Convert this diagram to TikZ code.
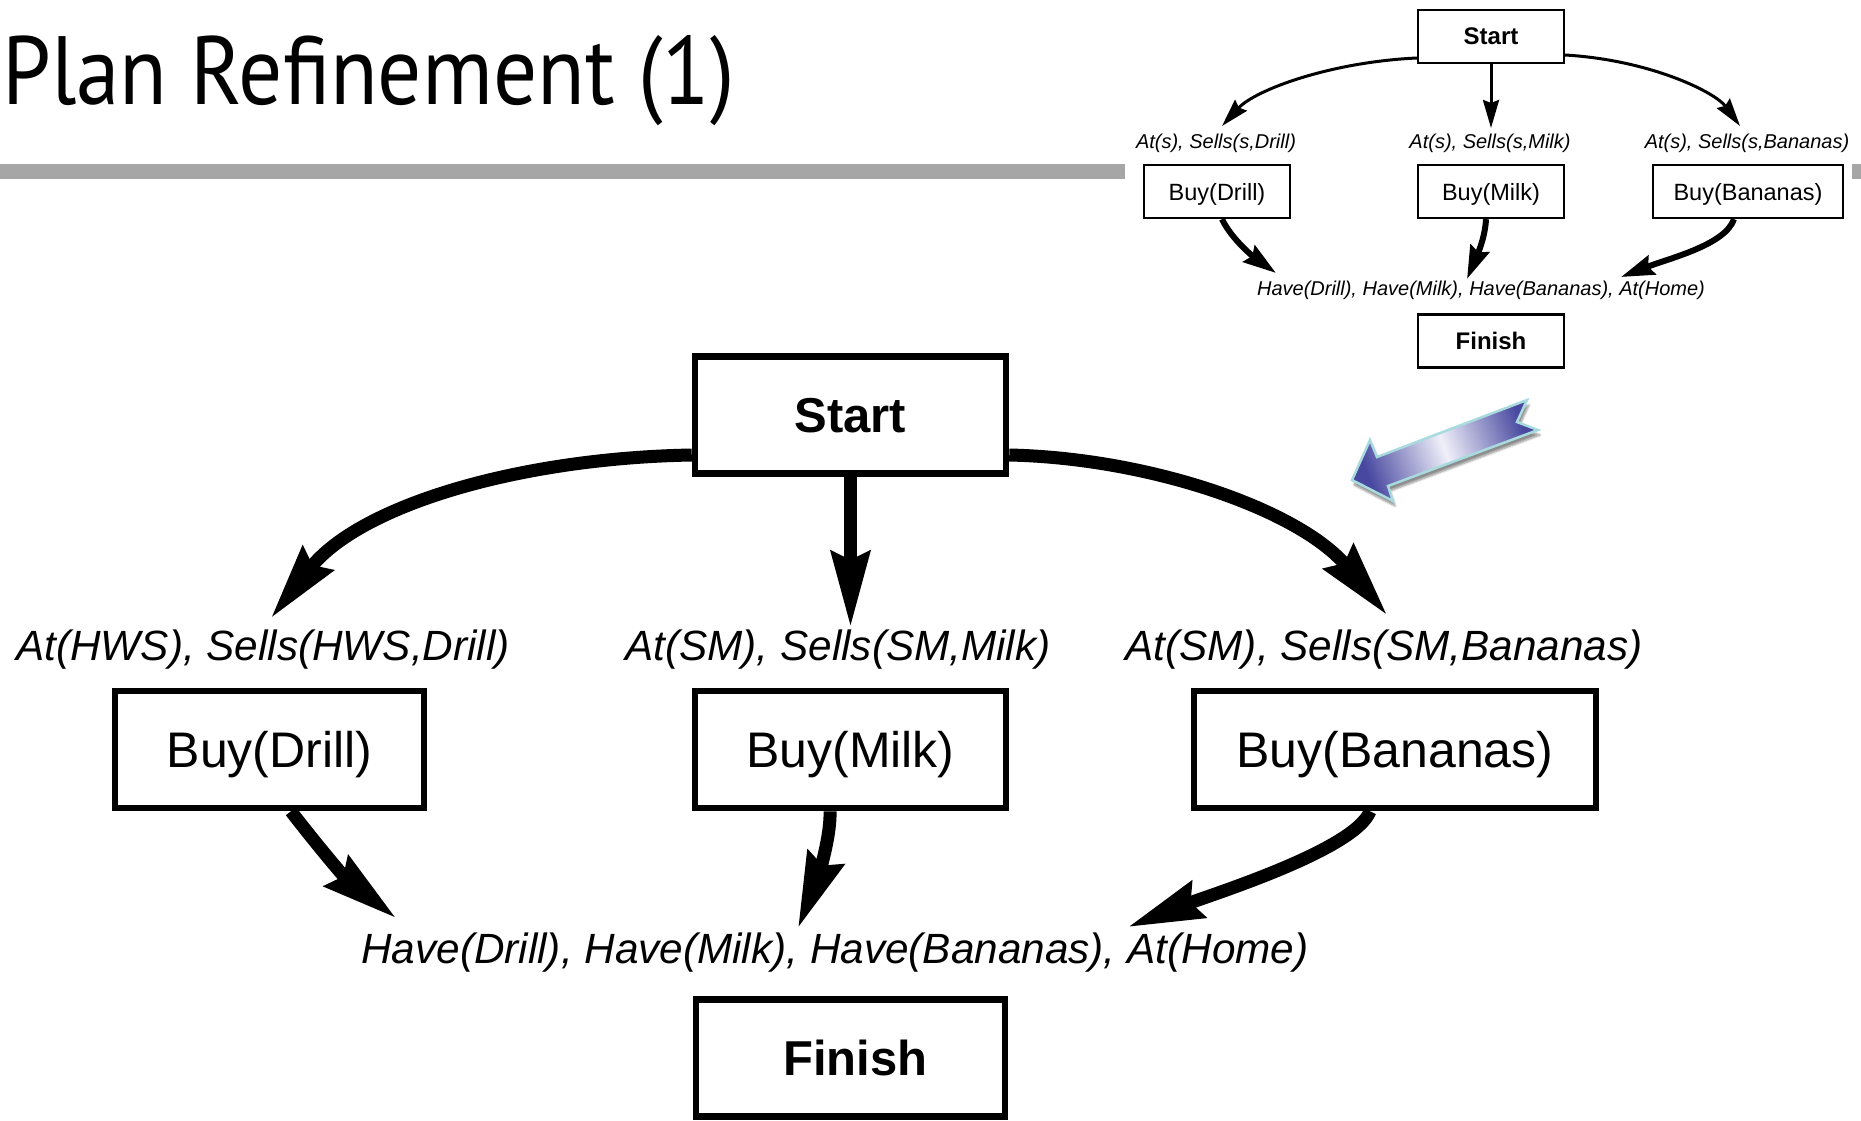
\documentclass[tikz,border=0pt]{standalone}
\usepackage{fontspec}
\setmainfont{Liberation Sans}
\newfontfamily\titlefont[FakeStretch=0.9]{PT Sans}
\usetikzlibrary{arrows.meta,shadows.blur}

\definecolor{rulegray}{HTML}{A6A6A6}
\definecolor{arrowdark}{RGB}{72,72,160}
\definecolor{arrowlight}{RGB}{240,240,250}
\definecolor{arrowedge}{RGB}{168,218,222}

\begin{document}
\begin{tikzpicture}[x=1pt,y=-1pt,
  bigbox/.style={draw, line width=6.5pt, minimum height=117pt, inner sep=0pt,
    text depth=0pt, font=\fontsize{50}{50}\selectfont},
  bigbold/.style={bigbox, font=\fontsize{49}{49}\selectfont\bfseries},
  biglbl/.style={inner sep=0pt, anchor=base, font=\fontsize{42.3}{42.3}\selectfont\itshape},
  smallbox/.style={draw, line width=2.3pt, minimum height=53pt, inner sep=0pt,
    text depth=0pt, font=\fontsize{23.5}{23.5}\selectfont},
  smallbold/.style={smallbox, font=\fontsize{24}{24}\selectfont\bfseries},
  smalllbl/.style={inner sep=0pt, anchor=base, font=\fontsize{20}{20}\selectfont\itshape},
  bigarrow/.style={line width=13pt, -{Stealth[length=75pt, width=38pt, inset=8pt]}},
  thinarrow/.style={line width=3pt, -{Stealth[length=28pt, width=16pt, inset=3pt]}},
  midarrow/.style={line width=6pt, -{Stealth[length=33pt, width=20pt, inset=4pt]}},
  bluearrow/.style={left color=arrowdark, right color=arrowdark, middle color=arrowlight,
    shading angle=110.7, draw=arrowedge, line width=2.5pt, line join=miter,
    blur shadow={shadow xshift=2pt, shadow yshift=-5pt, shadow blur steps=6, shadow opacity=45}},
]
\useasboundingbox (0,0) rectangle (1861,1120);

% title and rule
\node[anchor=base west, inner sep=0pt, font=\titlefont\fontsize{97}{97}\selectfont]
  (title) at (2,104) {Plan Refinement (1)};
\fill[rulegray] (0,164) rectangle (1125,179);
\fill[rulegray] (1852,164) rectangle (1861,179);

% ---- small plan (top right) ----
\node[smallbold, minimum width=146pt] (sStart) at (1491,36.5) {Start};
\node[smallbox, minimum width=146pt] (sDrill) at (1217,191.5) {Buy(Drill)};
\node[smallbox, minimum width=146pt] (sMilk) at (1491,191.5) {Buy(Milk)};
\node[smallbox, minimum width=190pt] (sBan) at (1748,191.5) {Buy(Bananas)};
\node[smallbold, minimum width=146pt] (sFinish) at (1491,341) {Finish};

\node[smalllbl] (slDrill) at (1216,148) {At(s), Sells(s,Drill)};
\node[smalllbl] (slMilk) at (1490,148) {At(s), Sells(s,Milk)};
\node[smalllbl] (slBan) at (1747,148) {At(s), Sells(s,Bananas)};
\node[smalllbl] (slHave) at (1481,295) {Have(Drill), Have(Milk), Have(Bananas), At(Home)};

\coordinate (s1) at (1222,126);
\coordinate (s2) at (1491,128);
\coordinate (s3) at (1740,126);
\coordinate (s4) at (1276,273);
\coordinate (s5) at (1467,279);
\coordinate (s6) at (1621,277);

\draw[thinarrow] ([yshift=-21.5pt]sStart.west) .. controls (1330,62) and (1255,90) .. (s1);
\draw[thinarrow] (sStart.south) -- (s2);
\draw[thinarrow] ([yshift=-18.5pt]sStart.east) .. controls (1650,60) and (1715,92) .. (s3);
\draw[midarrow] ([xshift=5pt]sDrill.south) .. controls (1232,240) and (1255,258) .. (s4);
\draw[midarrow] ([xshift=-5pt]sMilk.south) .. controls (1485,240) and (1475,260) .. (s5);
\draw[midarrow] ([xshift=-14pt]sBan.south) .. controls (1725,245) and (1670,258) .. (s6);

% refinement arrow
\draw[bluearrow] (1352,480) -- (1370,440) -- (1377,457) -- (1527,400) -- (1517,422)
  -- (1538,430) -- (1388,486) -- (1393,501) -- cycle;

% ---- refined plan ----
\node[bigbold, minimum width=311pt] (bStart) at (850.5,415) {Start};
\node[bigbox, minimum width=309pt] (bDrill) at (269.5,749.5) {Buy(Drill)};
\node[bigbox, minimum width=311pt] (bMilk) at (850.5,749.5) {Buy(Milk)};
\node[bigbox, minimum width=402pt] (bBan) at (1395,749.5) {Buy(Bananas)};
\node[bigbold, minimum width=309pt] (bFinish) at (850.5,1058) {\hspace*{10pt}Finish};

\node[biglbl] (lDrill) at (263,660) {At(HWS), Sells(HWS,Drill)};
\node[biglbl] (lMilk) at (838,660) {At(SM), Sells(SM,Milk)};
\node[biglbl] (lBan) at (1384,660) {At(SM), Sells(SM,Bananas)};
\node[biglbl] (lHave) at (835,963) {Have(Drill), Have(Milk), Have(Bananas), At(Home)};

\coordinate (t1) at (271,618);
\coordinate (t2) at (850.5,627);
\coordinate (t3) at (1387,615);
\coordinate (t4) at (396,918);
\coordinate (t5) at (798,928);
\coordinate (t6) at (1128,927);

\draw[bigarrow] ([yshift=-40pt]bStart.west) .. controls (520,458) and (360,505) .. (t1);
\draw[bigarrow] (bStart.south) -- (t2);
\draw[bigarrow] ([yshift=-40pt]bStart.east) .. controls (1150,458) and (1300,510) .. (t3);
\draw[bigarrow] ([xshift=21.5pt]bDrill.south) .. controls (313,840) and (344,877) .. (t4);
\draw[bigarrow] ([xshift=-20.5pt]bMilk.south) .. controls (831,840) and (815,885) .. (t5);
\draw[bigarrow] ([xshift=-25pt]bBan.south) .. controls (1355,850) and (1210,895) .. (t6);
\end{tikzpicture}
\end{document}
